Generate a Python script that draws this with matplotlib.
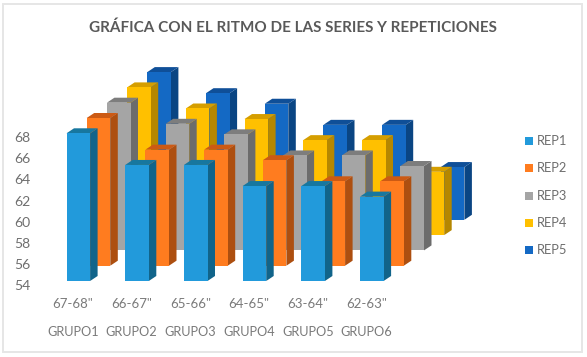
import matplotlib
matplotlib.use("Agg")
import matplotlib.pyplot as plt
from matplotlib.patches import Polygon, Rectangle

plt.rcParams["font.family"] = ["Lato", "DejaVu Sans"]

GROUPS = ["GRUPO1", "GRUPO2", "GRUPO3", "GRUPO4", "GRUPO5", "GRUPO6"]
RANGES = ['67-68"', '66-67"', '65-66"', '64-65"', '63-64"', '62-63"']
TICKS = [54, 56, 58, 60, 62, 64, 66, 68]
SERIES = ["REP1", "REP2", "REP3", "REP4", "REP5"]

REP1 = [68, 65, 65, 63, 63, 62]
REP2 = [68, 65, 65, 64, 62, 62]
REP3 = [68, 66, 65, 63, 63, 62]
REP4 = [68, 66, 65, 63, 63, 60]
REP5 = [68, 66, 65, 63, 63, 59]

# front, top, side
COLOURS = [
    ("#229ADB", "#17779F", "#11648A"),
    ("#FF7C1F", "#CC5A14", "#AD4F10"),
    ("#A5A5A5", "#7D7D7D", "#6C6C6C"),
    ("#FFC000", "#D59E00", "#B58700"),
    ("#1469C4", "#0F4F98", "#0A4583"),
]

W, H = 587, 357
BASE = 54
PX_UNIT = 10.55      # pixels for one y unit
GROUP_STEP = 58.7    # pixels between groups
BAR_W = 23.6
REP_DX, REP_DY = 20.2, 15.3    # shift from one series to the one behind it
SIDE_DX, SIDE_DY = 7.5, 5.0    # depth of a single bar

fig = plt.figure(figsize=(W / 100, H / 100), dpi=100, facecolor="white")

# light frame of the screenshot, kept behind the axes
fig.add_artist(Rectangle((3 / W, 1 - 352 / H), 579 / W, 348 / H, transform=fig.transFigure,
                         facecolor="white", edgecolor="#E6E6E6", lw=1.4, zorder=-1))

# axes covers the figure; x is in pixels, y is in chart units
ax = fig.add_axes([0, 0, 1, 1])
y_bottom = 54 - (H - 285) / PX_UNIT
ax.set_xlim(0, W)
ax.set_ylim(y_bottom, y_bottom + H / PX_UNIT)
ax.patch.set_alpha(0)
for s in ax.spines.values():
    s.set_visible(False)
ax.set_xticks([])
ax.set_yticks(TICKS)
ax.tick_params(axis="y", length=0, direction="in", pad=-21.8, labelsize=10, labelcolor="#6E6E6E")
for lab in ax.get_yticklabels():
    lab.set_ha("right")

FRONT_X = 66.5
FRONT_LIFT = 4 / PX_UNIT


def draw_bar(x, value, rep, colours):
    x0 = x + rep * REP_DX
    x1 = x0 + BAR_W
    lift = FRONT_LIFT + rep * REP_DY / PX_UNIT
    y0 = BASE + lift
    y1 = value + lift
    sx, sy = SIDE_DX, SIDE_DY / PX_UNIT
    front, top, side = colours
    ax.add_patch(Polygon([(x1, y0), (x1 + sx, y0 + sy), (x1 + sx, y1 + sy), (x1, y1)], color=side, lw=0))
    ax.add_patch(Polygon([(x0, y1), (x1, y1), (x1 + sx, y1 + sy), (x0 + sx, y1 + sy)], color=top, lw=0))
    ax.add_patch(Polygon([(x0, y0), (x1, y0), (x1, y1), (x0, y1)], color=front, lw=0))


all_reps = [REP1, REP2, REP3, REP4, REP5]
for rep in range(4, -1, -1):
    for g in range(5, -1, -1):
        draw_bar(FRONT_X + g * GROUP_STEP, all_reps[rep][g], rep, COLOURS[rep])

# labels under the bars
for g in range(6):
    cx = 73 + g * GROUP_STEP
    fig.text(cx / W, 1 - 304 / H, RANGES[g], ha="center", va="center", fontsize=9.5, color="#7A7A7A")
    fig.text(cx / W, 1 - 332 / H, GROUPS[g], ha="center", va="center", fontsize=9.2, color="#7A7A7A")

fig.text(292.5 / W, 1 - 28 / H, "GRÁFICA CON EL RITMO DE LAS SERIES Y REPETICIONES",
         ha="center", va="center", fontsize=10.95, fontweight="bold", color="#595959")

# legend
for i, name in enumerate(SERIES):
    y = 141 + i * 27.3
    fig.add_artist(Rectangle((525 / W, 1 - (y + 4) / H), 8 / W, 8 / H,
                             transform=fig.transFigure, color=COLOURS[i][0], lw=0))
    fig.text(537 / W, 1 - y / H, name, ha="left", va="center", fontsize=9.3, color="#6E6E6E")

fig.savefig("out.png", dpi=100)
